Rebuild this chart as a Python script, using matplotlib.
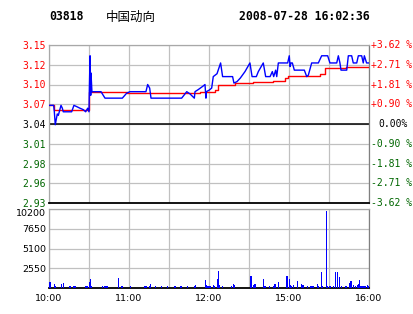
import matplotlib
matplotlib.use("Agg")
import matplotlib.pyplot as plt
import matplotlib.transforms as mtransforms

# minutes from 10:00 (lunch break removed: 12:30 -> 14:30)
price_t = [0, 3.5, 4, 4.7, 6.2, 7, 9, 10, 10.7, 17, 18.7, 21, 23.2, 25.7, 27.5, 29, 30,
           30.3, 30.8, 31.3, 31.5, 32.2, 39, 42, 55, 58.3, 60.7, 72.7, 74, 75.5, 76.5,
           99.5, 103.3, 105.7, 109, 109.5, 112, 115.7, 117, 117.7, 118, 120, 122, 123.2,
           126, 128.7, 130.2, 137.7, 138.7, 141, 143.5, 147, 150.7, 152.3, 155.5, 157,
           160.7, 162.5, 165.8, 167.5, 168.5, 170, 170.8, 172, 179, 180.2, 180.8, 181.5,
           182.5, 184, 191.5, 193.3, 194.5, 197, 202, 204.5, 209, 210.7, 215.8, 217,
           218.2, 219, 223.3, 224.5, 227, 228.2, 230.8, 232, 234.5, 235.7, 236.5, 238.2, 240]
price_v = [3.066, 3.066, 3.057, 3.039, 3.054, 3.052, 3.066, 3.062, 3.057, 3.057, 3.066,
           3.064, 3.062, 3.060, 3.057, 3.062, 3.057, 3.092, 3.135, 3.080, 3.111, 3.085,
           3.085, 3.076, 3.076, 3.083, 3.085, 3.085, 3.095, 3.090, 3.076, 3.076, 3.085,
           3.082, 3.076, 3.085, 3.088, 3.093, 3.095, 3.076, 3.085, 3.087, 3.090, 3.106,
           3.110, 3.125, 3.106, 3.106, 3.097, 3.099, 3.104, 3.113, 3.125, 3.106, 3.106,
           3.113, 3.125, 3.106, 3.106, 3.113, 3.106, 3.115, 3.106, 3.125, 3.125, 3.135,
           3.120, 3.125, 3.125, 3.115, 3.115, 3.106, 3.108, 3.125, 3.125, 3.135, 3.135,
           3.125, 3.125, 3.135, 3.125, 3.115, 3.115, 3.135, 3.135, 3.125, 3.125, 3.135,
           3.135, 3.125, 3.135, 3.125, 3.125]

avg_t = [0, 4, 30.2, 45.7, 58.3, 113, 124.5, 126.7, 139.5, 153, 168, 177, 179.5, 203, 207, 222.8, 240]
avg_v = [3.066, 3.060, 3.085, 3.084, 3.083, 3.084, 3.087, 3.095, 3.097, 3.098, 3.100,
         3.104, 3.107, 3.109, 3.118, 3.119, 3.119]

vol_t = [0.75, 4, 4.5, 9.5, 10.7, 15.75, 18.2, 19.5, 27.5, 28.5, 30.2, 31, 31.7, 40, 42,
         43.5, 52, 54.2, 55, 61, 72, 72.7, 75.2, 76, 80, 84.5, 89, 94.5, 99, 103.7, 109,
         109.7, 117.2, 118.3, 119.2, 120.7, 123.2, 124, 126.2, 127, 127.7, 130, 137, 138.2,
         139, 151.5, 153.2, 154.5, 160.7, 162, 165.2, 168.2, 169.5, 172, 178.3, 179, 180.2,
         181, 182, 183.2, 186.2, 189.5, 190.5, 193.7, 196.5, 198, 201.2, 202, 204.2, 205,
         208, 209, 210.7, 213.2, 214.7, 216.2, 217.7, 219.2, 222.2, 223, 225.2, 226.5,
         228.2, 229.7, 231.2, 232, 232.7, 234, 234.7, 235.5, 236.2, 237.5, 238.7, 240]
vol_v = [775, 560, 300, 560, 645, 300, 300, 300, 300, 300, 775, 1160, 300, 300, 300,
         300, 1290, 300, 300, 300, 300, 300, 300, 560, 300, 300, 300, 300, 300, 300, 300,
         430, 1030, 430, 300, 215, 340, 215, 1120, 2150, 340, 300, 215, 470,
         340, 1500, 340, 470, 1120, 215, 215, 215, 470, 730, 1500, 1500, 1120,
         340, 215, 340, 860, 470, 340, 215, 215, 215, 470, 215, 2020, 215,
         9900, 215, 215, 215, 2020, 2020, 1380, 215, 215, 215, 600, 860,
         340, 215, 340, 470, 990, 215, 215, 215, 215, 215, 340, 215]

prev_close = 3.04
left_labels = ["2.93", "2.96", "2.98", "3.01", "3.04", "3.07", "3.10", "3.12", "3.15"]
right_labels = ["-3.62 %", "-2.71 %", "-1.81 %", "-0.90 %", "0.00%",
                "+0.90 %", "+1.81 %", "+2.71 %", "+3.62 %"]
vol_ticks = [2550, 5100, 7650, 10200]
time_labels = ["10:00", "11:00", "12:00", "15:00", "16:00"]

RED = "#FF0000"
GREEN = "#006600"
BLUE = "#0000FF"
GRID = "#C0C0C0"
MONO = "DejaVu Sans Mono"

fig = plt.figure(figsize=(4.14, 3.14), dpi=100)
W, H = 414.0, 314.0
ax = fig.add_axes([49 / W, 1 - 203 / H, 320 / W, 158 / H])
axv = fig.add_axes([49 / W, 1 - 288 / H, 320 / W, 79 / H])

step = 0.0275
yticks = [prev_close + k * step for k in range(-4, 5)]
xgrid = list(range(0, 241, 30))

for a in (ax, axv):
    a.set_xlim(0, 240)
    a.set_xticks(xgrid)
    a.grid(True, color=GRID, linewidth=0.9)
    a.set_axisbelow(True)
    for s in ("top", "left"):
        a.spines[s].set_color("#A8A8A8")
        a.spines[s].set_linewidth(0.9)
    a.spines["right"].set_color("#808080")
    a.spines["right"].set_linewidth(0.9)
    a.spines["bottom"].set_color("black")
    a.spines["bottom"].set_linewidth(1.3)
    a.tick_params(length=0)

# price panel
ax.set_ylim(yticks[0], yticks[-1])
ax.set_yticks(yticks)
ax.set_xticklabels([])
ax.set_yticklabels(left_labels, fontfamily=MONO, fontsize=7)
ax.tick_params(axis="y", pad=2)
for i, lab in enumerate(ax.get_yticklabels()):
    lab.set_color(GREEN if i < 4 else ("black" if i == 4 else RED))
ax.axhline(prev_close, color="black", linewidth=1.1, zorder=2)

trans = mtransforms.blended_transform_factory(ax.transAxes, ax.transData)
for i, (y, lab) in enumerate(zip(yticks, right_labels)):
    col = GREEN if i < 4 else ("black" if i == 4 else RED)
    xo = 1.005 if i != 4 else 1.03
    ax.text(xo, y, lab, transform=trans, ha="left", va="center",
            fontfamily=MONO, fontsize=7, color=col, clip_on=False)

ax.plot(avg_t, avg_v, color=RED, linewidth=1.0, drawstyle="steps-post", zorder=3)
ax.plot(price_t, price_v, color=BLUE, linewidth=1.0, zorder=4)

# volume panel
axv.set_ylim(0, 10200)
axv.set_yticks(vol_ticks)
axv.set_yticklabels([str(v) for v in vol_ticks], fontfamily="DejaVu Sans", fontsize=6.8)
axv.get_yticklabels()[-1].set_va("top")
axv.tick_params(axis="y", pad=2)
axv.set_xticks(xgrid)
axv.set_xticklabels([time_labels[i // 2] if i % 2 == 0 else "" for i in range(len(xgrid))],
                    fontfamily="DejaVu Sans", fontsize=6.8)
axv.tick_params(axis="x", pad=4)
axv.bar(vol_t, vol_v, width=0.9, color=BLUE, linewidth=0, zorder=3)

# header
fig.text(49 / W, 1 - 17 / H, "03818", fontfamily=MONO, fontweight="bold",
         fontsize=8.3, va="center", ha="left")
fig.text(106 / W, 1 - 17 / H, "中国动向", fontfamily=["Noto Sans CJK SC", "DejaVu Sans"],
         fontsize=9, va="center", ha="left")
fig.text(370 / W, 1 - 17 / H, "2008-07-28 16:02:36", fontfamily=MONO, fontweight="bold",
         fontsize=8.3, va="center", ha="right")

fig.savefig("out.png", dpi=100)
